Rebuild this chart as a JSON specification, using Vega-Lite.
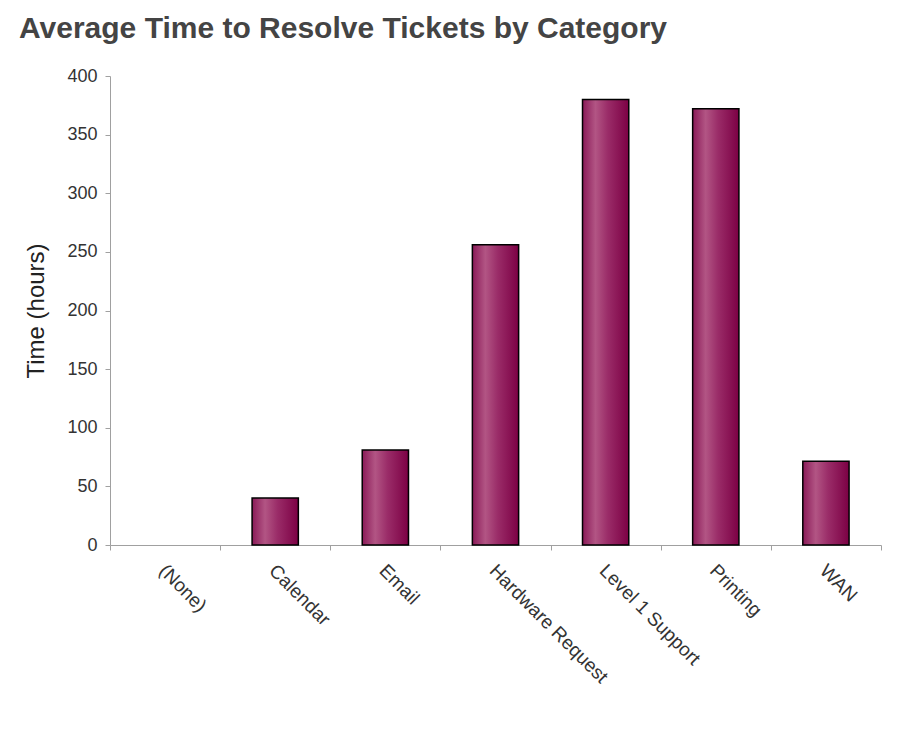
{
  "$schema": "https://vega.github.io/schema/vega-lite/v6.json",
  "width": 771,
  "height": 469,
  "autosize": {"type": "none"},
  "padding": {"left": 110, "top": 76, "right": 43, "bottom": 194},
  "background": "white",
  "title": {
    "text": "Average Time to Resolve Tickets by Category",
    "anchor": "start",
    "frame": "group",
    "font": "Liberation Sans",
    "fontSize": 30,
    "fontWeight": "bold",
    "color": "#444444",
    "dx": -91,
    "dy": 31,
    "baseline": "alphabetic",
    "offset": 30
  },
  "data": {
    "values": [
      {"category": "(None)", "hours": 0},
      {"category": "Calendar", "hours": 40},
      {"category": "Email", "hours": 81},
      {"category": "Hardware Request", "hours": 256},
      {"category": "Level 1 Support", "hours": 380},
      {"category": "Printing", "hours": 372},
      {"category": "WAN", "hours": 71.5}
    ]
  },
  "mark": {
    "type": "bar",
    "width": {"band": 0.42},
    "stroke": "#000000",
    "strokeWidth": 1.5,
    "fill": {
      "gradient": "linear",
      "x1": 0, "x2": 1, "y1": 0, "y2": 0,
      "stops": [
        {"offset": 0, "color": "#8a1a58"},
        {"offset": 0.28, "color": "#b25584"},
        {"offset": 0.55, "color": "#9a2c68"},
        {"offset": 1, "color": "#7c0044"}
      ]
    }
  },
  "encoding": {
    "x": {
      "field": "category",
      "type": "nominal",
      "sort": null,
      "scale": {"paddingInner": 0, "paddingOuter": 0},
      "axis": {
        "title": null,
        "labelAngle": 45,
        "labelAlign": "left",
        "labelBaseline": "top",
        "labelFont": "Liberation Sans",
        "labelFontSize": 19,
        "labelColor": "#333333",
        "labelPadding": 11,
        "labelOffset": 3,
        "tickBand": "extent",
        "tickSize": 5,
        "tickColor": "#a0a0a0",
        "domainColor": "#a0a0a0",
        "grid": false
      }
    },
    "y": {
      "field": "hours",
      "type": "quantitative",
      "scale": {"domain": [0, 400], "nice": false},
      "axis": {
        "title": "Time (hours)",
        "titleFont": "Liberation Sans",
        "titleFontSize": 24,
        "titleFontWeight": "normal",
        "titleColor": "#222222",
        "titlePadding": 18,
        "values": [0, 50, 100, 150, 200, 250, 300, 350, 400],
        "labelFont": "Liberation Sans",
        "labelFontSize": 18,
        "labelColor": "#333333",
        "labelPadding": 8,
        "tickSize": 5,
        "tickColor": "#a0a0a0",
        "domainColor": "#a0a0a0",
        "grid": false
      }
    },
    "strokeOpacity": {
      "condition": {"test": "datum.hours > 0", "value": 1},
      "value": 0
    }
  },
  "config": {"view": {"stroke": null}}
}
